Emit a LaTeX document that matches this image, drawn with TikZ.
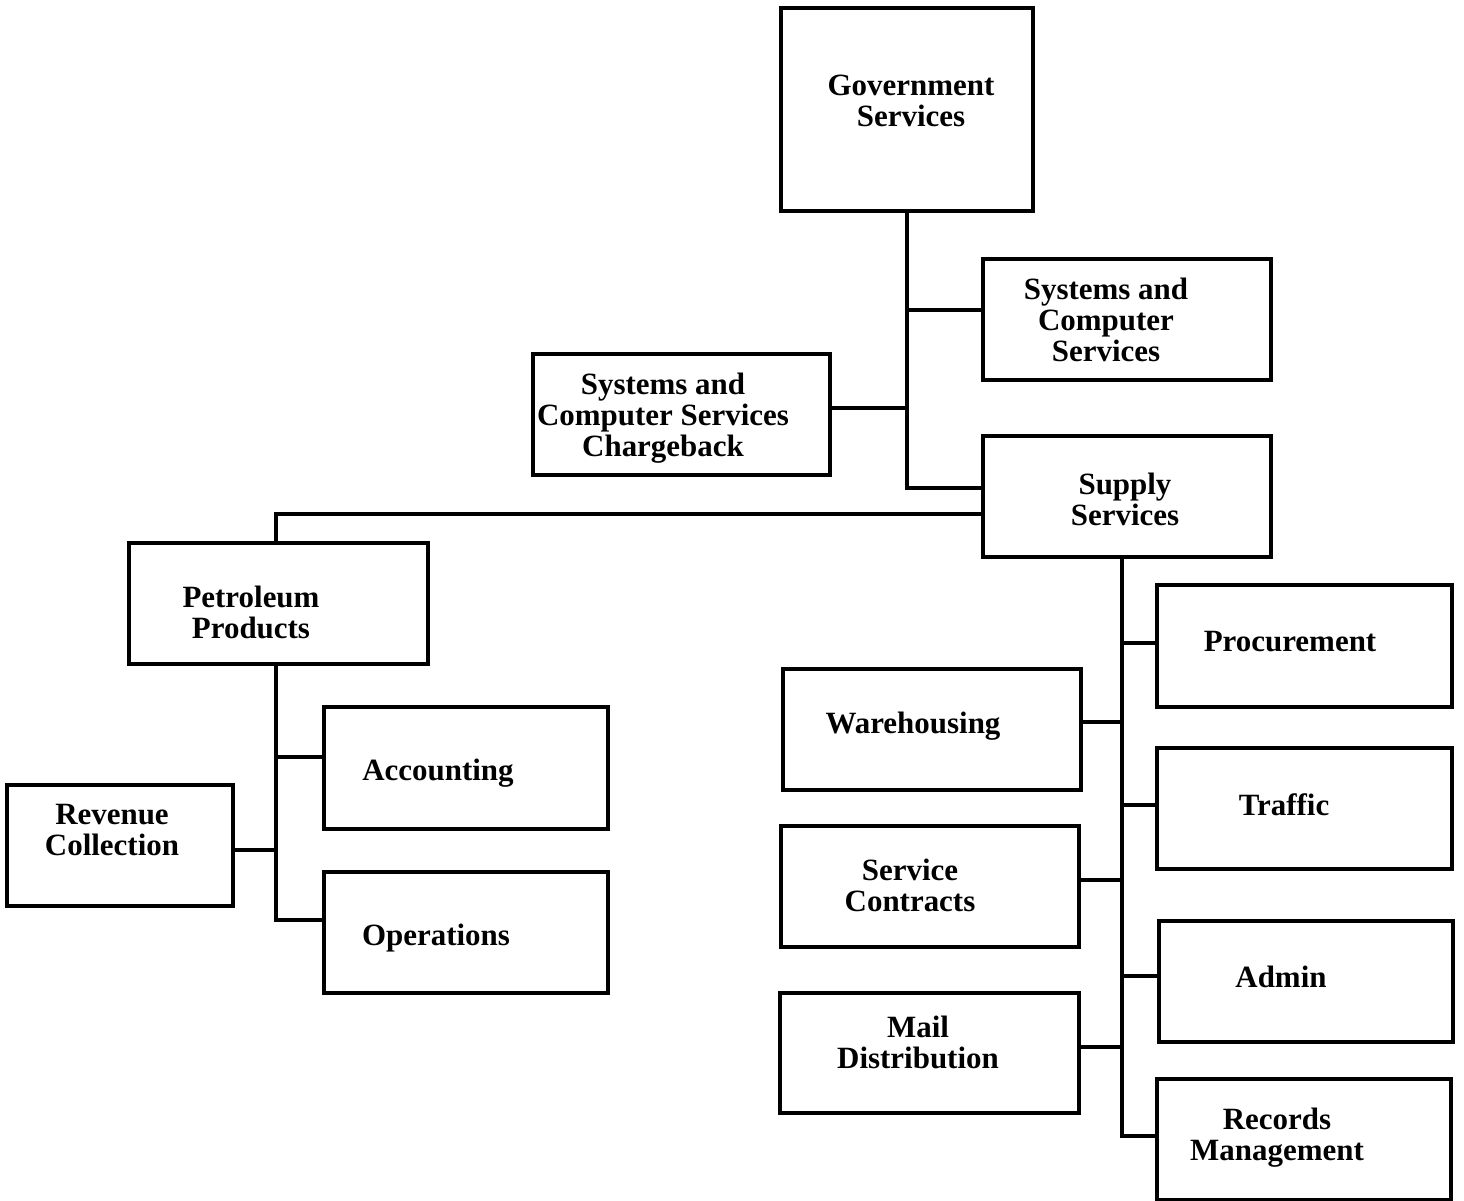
\documentclass[tikz,border=0pt]{standalone}
\usepackage{fontspec}
\setmainfont{Liberation Serif}
\begin{document}
\begin{tikzpicture}[x=0.01cm,y=-0.01cm,
  box/.style={draw,line width=0.9pt,rectangle,inner sep=0pt},
  lbl/.style={font=\fontsize{8.8}{8.8}\selectfont\bfseries,align=center,inner sep=0pt},
  link/.style={line width=0.9pt}]
\useasboundingbox (0,0) rectangle (1464,1201);

% boxes (centre, width, height)
\node[box,minimum width=252*0.01cm,minimum height=203*0.01cm] (gov)   at (907,109.5)  {};
\node[box,minimum width=288*0.01cm,minimum height=121*0.01cm] (scs)   at (1127,319.5) {};
\node[box,minimum width=297*0.01cm,minimum height=121*0.01cm] (chg)   at (681.5,414.5) {};
\node[box,minimum width=288*0.01cm,minimum height=121*0.01cm] (sup)   at (1127,496.5) {};
\node[box,minimum width=299*0.01cm,minimum height=121*0.01cm] (pet)   at (278.5,603.5) {};
\node[box,minimum width=284*0.01cm,minimum height=122*0.01cm] (acc)   at (466,768)    {};
\node[box,minimum width=284*0.01cm,minimum height=121*0.01cm] (ops)   at (466,932.5)  {};
\node[box,minimum width=226*0.01cm,minimum height=121*0.01cm] (rev)   at (120,845.5)  {};
\node[box,minimum width=295*0.01cm,minimum height=122*0.01cm] (proc)  at (1304.5,646)  {};
\node[box,minimum width=298*0.01cm,minimum height=121*0.01cm] (ware)  at (932,729.5)  {};
\node[box,minimum width=295*0.01cm,minimum height=121*0.01cm] (traf)  at (1304.5,808.5) {};
\node[box,minimum width=298*0.01cm,minimum height=121*0.01cm] (serv)  at (930,886.5)  {};
\node[box,minimum width=294*0.01cm,minimum height=121*0.01cm] (admin) at (1306,981.5)  {};
\node[box,minimum width=299*0.01cm,minimum height=120*0.01cm] (mail)  at (929.5,1053) {};
\node[box,minimum width=294*0.01cm,minimum height=121*0.01cm] (rec)   at (1304,1139.5) {};

% labels
\node[lbl] (govT)   at (911,101)  {Government\\Services};
\node[lbl] (scsT)   at (1106,320) {Systems and\\Computer\\Services};
\node[lbl] (chgT)   at (663,418)  {Systems and\\Computer Services\\Chargeback};
\node[lbl] (supT)   at (1125,499) {Supply\\Services};
\node[lbl] (petT)   at (251,612)  {Petroleum\\Products};
\node[lbl] (accT)   at (438,773)  {Accounting};
\node[lbl] (opsT)   at (436,938)  {Operations};
\node[lbl] (revT)   at (112,830)  {Revenue\\Collection};
\node[lbl] (procT)  at (1290,642) {Procurement};
\node[lbl] (wareT)  at (913,726)  {Warehousing};
\node[lbl] (trafT)  at (1284,805) {Traffic};
\node[lbl] (servT)  at (910,885)  {Service\\Contracts};
\node[lbl] (adminT) at (1281,977) {Admin};
\node[lbl] (mailT)  at (918,1042) {Mail\\Distribution};
\node[lbl] (recT)   at (1277,1138) {Records\\Management};

% trunk positions
\coordinate (gtrunk) at (907,0);
\coordinate (ptrunk) at (276,0);
\coordinate (strunk) at (1122,0);

% Government Services branch
\draw[link] (gov.south) |- (sup.west |- 0,488);
\draw[link] (gtrunk |- 0,310) -- (scs.west |- 0,310);
\draw[link] (chg.east |- 0,408) -- (gtrunk |- 0,408);

% Supply Services to Petroleum Products
\draw[link] (sup.west |- 0,514) -| (pet.north -| ptrunk);

% Petroleum Products branch
\draw[link] (pet.south -| ptrunk) |- (ops.west |- 0,920);
\draw[link] (ptrunk |- 0,757) -- (acc.west |- 0,757);
\draw[link] (rev.east |- 0,850) -- (ptrunk |- 0,850);

% Supply Services branch
\draw[link] (sup.south -| strunk) |- (rec.west |- 0,1136);
\draw[link] (strunk |- 0,643) -- (proc.west |- 0,643);
\draw[link] (ware.east |- 0,722) -- (strunk |- 0,722);
\draw[link] (strunk |- 0,805) -- (traf.west |- 0,805);
\draw[link] (serv.east |- 0,880) -- (strunk |- 0,880);
\draw[link] (strunk |- 0,976) -- (admin.west |- 0,976);
\draw[link] (mail.east |- 0,1047) -- (strunk |- 0,1047);
\end{tikzpicture}
\end{document}
